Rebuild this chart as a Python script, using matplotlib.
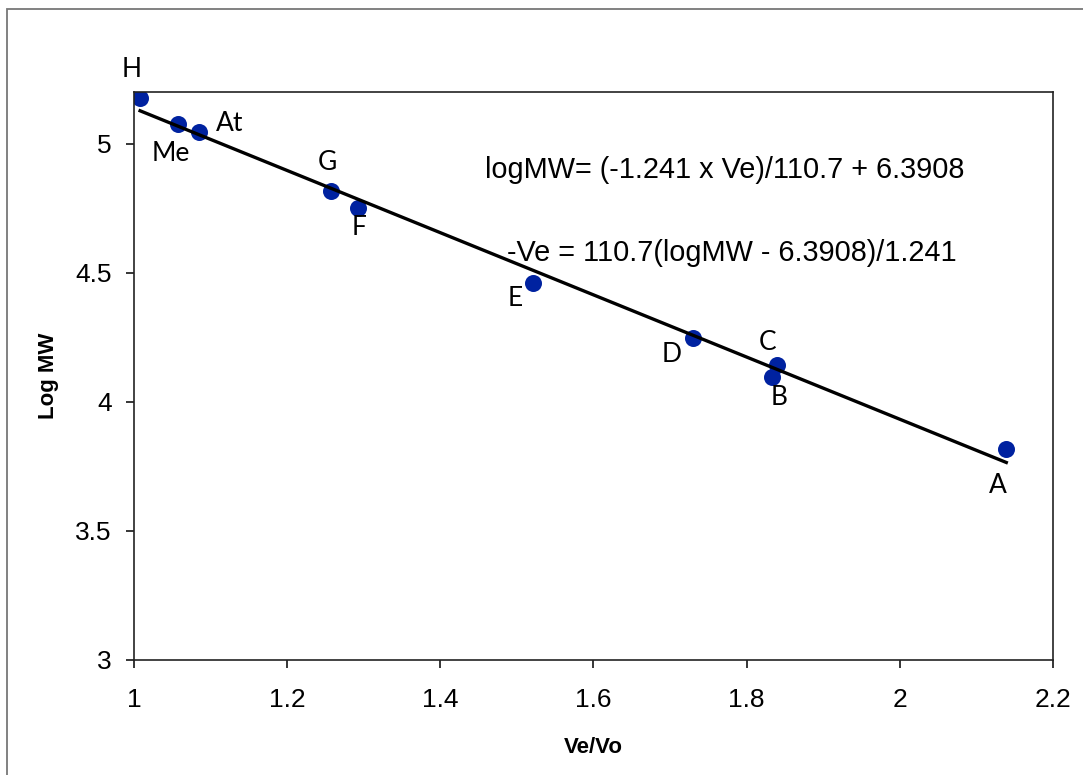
import numpy as np
import matplotlib.pyplot as plt
from matplotlib.patches import Rectangle

# ── calibration standards: elution ratio vs log molecular weight ─────────────
names  = ["H", "Me", "At", "G", "F", "E", "D", "C", "B", "A"]
ve_vo  = [1.008, 1.058, 1.085, 1.257, 1.292, 1.521, 1.730, 1.840, 1.833, 2.139]
log_mw = [5.177, 5.076, 5.046, 4.818, 4.751, 4.461, 4.247, 4.141, 4.096, 3.819]

# label offsets from each point, in pixels
label_off = {
    "H":  (-8, 28), "Me": (-8, -29), "At": (31, 8),  "G": (-3, 28),
    "F":  (1, -20), "E":  (-18, -16), "D": (-21, -16), "C": (-10, 23),
    "B":  (7, -20), "A":  (-8, -37),
}

x = np.array(ve_vo)
y = np.array(log_mw)
slope, icept = np.polyfit(x, y, 1)
xfit = np.array([x.min(), x.max()])

fig = plt.figure(figsize=(10.83, 7.75), dpi=100)
ax = fig.add_axes([0.1237, 0.1484, 0.8486, 0.7329])

ax.scatter(x, y, s=150, color="#0022a0", zorder=2, linewidths=0)
ax.plot(xfit, slope * xfit + icept, color="black", lw=2.4, zorder=3)

for n, xi, yi in zip(names, x, y):
    ax.annotate(n, (xi, yi), xytext=label_off[n], textcoords="offset pixels",
                ha="center", va="center", fontsize=19, family="Lato")

ax.text(0.382, 0.863, "logMW= (-1.241 x Ve)/110.7 + 6.3908", transform=ax.transAxes,
        fontsize=20.8, family="Liberation Sans", va="center", ha="left")
ax.text(0.406, 0.717, "-Ve = 110.7(logMW - 6.3908)/1.241", transform=ax.transAxes,
        fontsize=20.8, family="Liberation Sans", va="center", ha="left")

ax.set_xlim(1, 2.2)
ax.set_ylim(3, 5.2)
ax.set_xticks([1, 1.2, 1.4, 1.6, 1.8, 2, 2.2])
ax.set_xticklabels(["1", "1.2", "1.4", "1.6", "1.8", "2", "2.2"])
ax.set_yticks([3, 3.5, 4, 4.5, 5])
ax.set_yticklabels(["3", "3.5", "4", "4.5", "5"])
ax.tick_params(direction="out", length=6, width=1.1, labelsize=19)
ax.tick_params(axis="x", pad=14)
ax.tick_params(axis="y", pad=10)
for lab in ax.get_xticklabels() + ax.get_yticklabels():
    lab.set_family("Liberation Sans")
for sp in ax.spines.values():
    sp.set_linewidth(1.2)
    sp.set_color("#222222")

ax.set_xlabel("Ve/Vo", fontsize=16, fontweight="bold", family="Liberation Sans", labelpad=18)
ax.set_ylabel("Log MW", fontsize=16, fontweight="bold", family="Liberation Sans", labelpad=12)

# outer chart border
fig.patches.append(Rectangle((7 / 1083, -0.05), 1.1, 1 - 9 / 775 + 0.05,
                             transform=fig.transFigure, fill=False,
                             edgecolor="#777777", lw=1.3))

fig.savefig("out.png", dpi=100)
